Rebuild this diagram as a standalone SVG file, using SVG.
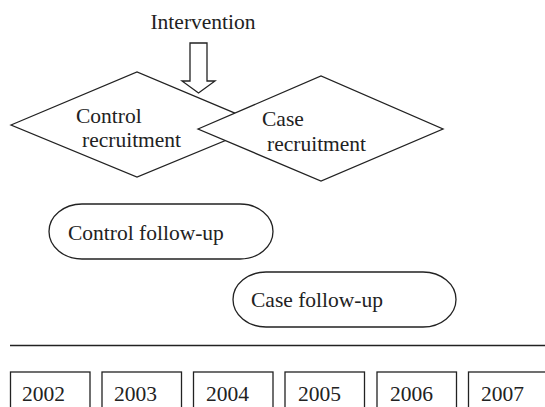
<svg xmlns="http://www.w3.org/2000/svg" width="545" height="407" viewBox="0 0 545 407">
<style>
.s{fill:#fff;stroke:#222;stroke-width:1.3}
text{font-family:'Liberation Serif','DejaVu Serif',serif;font-size:21.5px;fill:#222}
</style>
<rect width="545" height="407" fill="#fff"/>
<g id="intervention">
<text x="203" y="29" text-anchor="middle">Intervention</text>
</g>
<g id="connectors">
<path class="s" d="M190,43 H207 V81 H215 L198.5,93 L182,81 H190 Z"/>
</g>
<g id="control-recruitment">
<polygon class="s" points="11,125 137,72 263,125 137,177"/>
<text x="76" y="123">Control</text>
<text x="82" y="147">recruitment</text>
</g>
<g id="case-recruitment">
<polygon class="s" points="198,129 321,76 443,129 321,181"/>
<text x="262" y="126">Case</text>
<text x="267" y="151">recruitment</text>
</g>
<g id="control-follow-up">
<rect class="s" x="49" y="204" width="224" height="55" rx="33" ry="27.5"/>
<text x="68" y="240">Control follow-up</text>
</g>
<g id="case-follow-up">
<rect class="s" x="233" y="272" width="223" height="55" rx="33" ry="27.5"/>
<text x="251" y="307">Case follow-up</text>
</g>
<g id="timeline">
<line x1="10" y1="345.5" x2="545" y2="345.5" stroke="#222" stroke-width="1.3"/>
</g>
<g id="y2002"><rect class="s" x="10.5" y="372" width="79.5" height="40"/><text x="22" y="401">2002</text></g>
<g id="y2003"><rect class="s" x="102" y="372" width="79.5" height="40"/><text x="114" y="401">2003</text></g>
<g id="y2004"><rect class="s" x="193.5" y="372" width="79.5" height="40"/><text x="206" y="401">2004</text></g>
<g id="y2005"><rect class="s" x="285" y="372" width="79.5" height="40"/><text x="298" y="401">2005</text></g>
<g id="y2006"><rect class="s" x="377" y="372" width="79.5" height="40"/><text x="390" y="401">2006</text></g>
<g id="y2007"><rect class="s" x="468.5" y="372" width="79.5" height="40"/><text x="481" y="401">2007</text></g>
</svg>
